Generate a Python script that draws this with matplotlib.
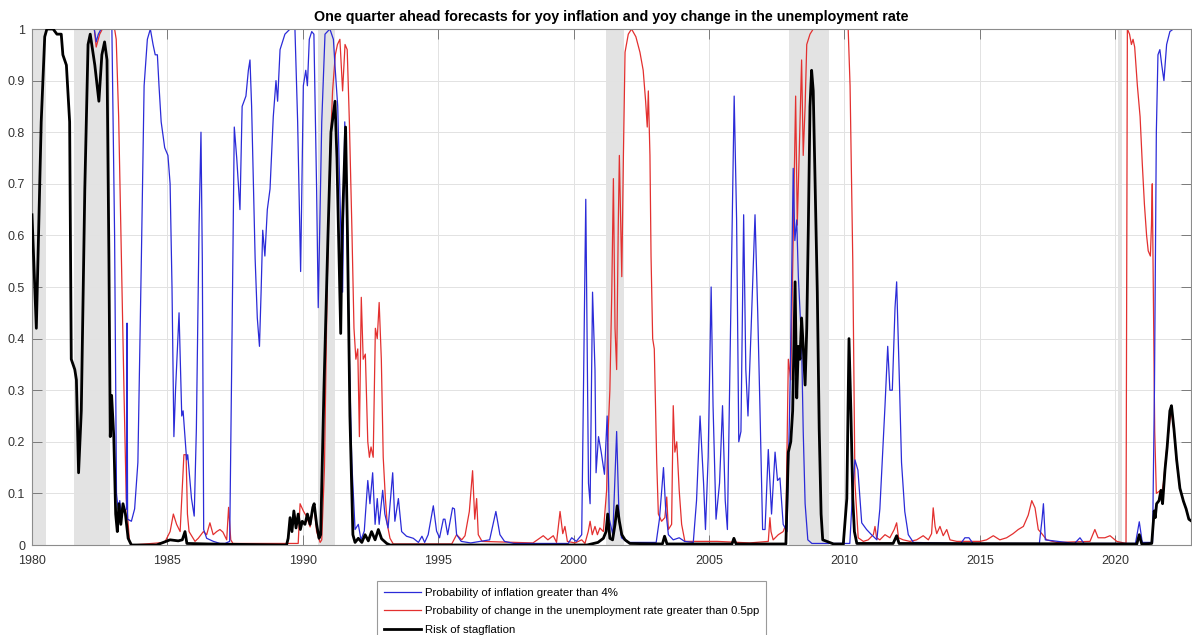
import matplotlib
matplotlib.use("Agg")
import matplotlib.pyplot as plt

plt.rcParams['font.family'] = ['Liberation Sans', 'DejaVu Sans']

# ---------------- data ----------------
title = "One quarter ahead forecasts for yoy inflation and yoy change in the unemployment rate"
labels = ["Probability of inflation greater than 4%",
          "Probability of change in the unemployment rate greater than 0.5pp",
          "Risk of stagflation"]

recession_start = [1980.0, 1981.54, 1990.55, 2001.2, 2007.95, 2020.1]
recession_end = [1980.5, 1982.87, 1991.2, 2001.85, 2009.45, 2020.25]

blue_t = [1980.0, 1982.3, 1982.37, 1982.45, 1982.55, 1982.95, 1983.05, 1983.12, 1983.18, 1983.24,
          1983.3, 1983.36, 1983.42, 1983.49, 1983.51, 1983.53, 1983.67, 1983.79, 1983.91, 1984.04,
          1984.14, 1984.26, 1984.37, 1984.47, 1984.55, 1984.63, 1984.69, 1984.77, 1984.9, 1985.02,
          1985.1, 1985.17, 1985.24, 1985.3, 1985.43, 1985.53, 1985.58, 1985.71, 1985.75, 1985.89,
          1985.99, 1986.07, 1986.17, 1986.24, 1986.29, 1986.34, 1986.45, 1986.7, 1986.94, 1987.13,
          1987.3, 1987.39, 1987.47, 1987.56, 1987.68, 1987.76, 1987.9, 1987.99, 1988.05, 1988.11,
          1988.24, 1988.32, 1988.4, 1988.46, 1988.52, 1988.6, 1988.69, 1988.79, 1988.91, 1989.01,
          1989.07, 1989.16, 1989.34, 1989.53, 1989.71, 1989.81, 1989.92, 1990.02, 1990.11, 1990.17,
          1990.24, 1990.33, 1990.41, 1990.51, 1990.57, 1990.7, 1990.82, 1991.0, 1991.13, 1991.2,
          1991.29, 1991.4, 1991.47, 1991.55, 1991.61, 1991.72, 1991.81, 1991.93, 1992.05, 1992.15,
          1992.27, 1992.4, 1992.48, 1992.58, 1992.67, 1992.75, 1992.82, 1992.95, 1993.03, 1993.15,
          1993.32, 1993.4, 1993.53, 1993.65, 1993.83, 1994.08, 1994.27, 1994.4, 1994.5, 1994.63,
          1994.82, 1994.94, 1995.05, 1995.19, 1995.25, 1995.35, 1995.53, 1995.6, 1995.68, 1995.85,
          1996.2, 1996.54, 1996.9, 1997.13, 1997.28, 1997.45, 1997.8, 1999.8, 1999.93, 2000.1,
          2000.3, 2000.45, 2000.55, 2000.61, 2000.7, 2000.79, 2000.83, 2000.92, 2001.02, 2001.14,
          2001.24, 2001.32, 2001.45, 2001.59, 2001.68, 2001.77, 2002.0, 2003.05, 2003.17, 2003.32,
          2003.4, 2003.5, 2003.68, 2003.9, 2004.1, 2004.42, 2004.54, 2004.67, 2004.8, 2004.87,
          2004.97, 2005.08, 2005.15, 2005.26, 2005.39, 2005.5, 2005.6, 2005.68, 2005.93, 2006.02,
          2006.1, 2006.18, 2006.28, 2006.36, 2006.44, 2006.55, 2006.7, 2006.8, 2006.88, 2006.98,
          2007.07, 2007.19, 2007.31, 2007.44, 2007.53, 2007.62, 2007.74, 2007.88, 2008.0, 2008.11,
          2008.17, 2008.24, 2008.3, 2008.42, 2008.48, 2008.55, 2008.65, 2008.8, 2010.2, 2010.3,
          2010.39, 2010.5, 2010.64, 2010.82, 2011.0, 2011.2, 2011.31, 2011.5, 2011.6, 2011.68,
          2011.77, 2011.87, 2011.93, 2012.02, 2012.11, 2012.23, 2012.36, 2012.55, 2014.3, 2014.45,
          2014.6, 2014.75, 2017.2, 2017.3, 2017.35, 2017.42, 2018.5, 2018.7, 2018.85, 2020.75,
          2020.89, 2021.0, 2021.38, 2021.45, 2021.52, 2021.58, 2021.65, 2021.72, 2021.8, 2021.9,
          2022.02, 2022.15, 2022.8]
blue_v = [1.0, 1.0, 0.975, 0.99, 1.0, 1.0, 0.6, 0.1, 0.07, 0.086,
          0.06, 0.08, 0.066, 0.07, 0.43, 0.05, 0.046, 0.07, 0.16, 0.56,
          0.89, 0.98, 1.0, 0.97, 0.95, 0.95, 0.89, 0.82, 0.77, 0.755,
          0.7, 0.5, 0.21, 0.3, 0.45, 0.25, 0.26, 0.165, 0.175, 0.09,
          0.056, 0.225, 0.62, 0.8, 0.55, 0.03, 0.013, 0.007, 0.003, 0.003,
          0.007, 0.42, 0.81, 0.75, 0.65, 0.85, 0.87, 0.92, 0.94, 0.85,
          0.555, 0.44, 0.385, 0.49, 0.61, 0.56, 0.65, 0.69, 0.83, 0.9,
          0.86, 0.96, 0.99, 1.0, 1.0, 0.82, 0.53, 0.89, 0.92, 0.89,
          0.98, 0.995, 0.99, 0.69, 0.46, 0.82, 0.99, 1.0, 0.98, 0.92,
          0.85, 0.62, 0.49, 0.82, 0.69, 0.36, 0.16, 0.03, 0.04, 0.01,
          0.027, 0.125, 0.08, 0.14, 0.04, 0.09, 0.04, 0.106, 0.06, 0.033,
          0.14, 0.046, 0.09, 0.026, 0.017, 0.013, 0.005, 0.017, 0.005, 0.02,
          0.076, 0.027, 0.014, 0.05, 0.05, 0.02, 0.072, 0.07, 0.02, 0.007,
          0.004, 0.007, 0.01, 0.065, 0.02, 0.007, 0.003, 0.003, 0.014, 0.007,
          0.02, 0.67, 0.12, 0.08, 0.49, 0.34, 0.14, 0.21, 0.18, 0.137,
          0.25, 0.05, 0.02, 0.22, 0.05, 0.014, 0.005, 0.005, 0.05, 0.15,
          0.07, 0.02, 0.01, 0.014, 0.007, 0.005, 0.086, 0.25, 0.12, 0.03,
          0.17, 0.5, 0.27, 0.05, 0.12, 0.27, 0.086, 0.03, 0.87, 0.63,
          0.2, 0.22, 0.64, 0.34, 0.25, 0.41, 0.64, 0.45, 0.27, 0.03,
          0.03, 0.185, 0.06, 0.18, 0.125, 0.13, 0.04, 0.026, 0.32, 0.73,
          0.59, 0.63, 0.52, 0.39, 0.22, 0.08, 0.01, 0.003, 0.003, 0.1,
          0.165, 0.145, 0.043, 0.03, 0.02, 0.01, 0.07, 0.27, 0.385, 0.3,
          0.3, 0.46, 0.51, 0.34, 0.16, 0.065, 0.02, 0.005, 0.003, 0.014,
          0.014, 0.003, 0.003, 0.05, 0.08, 0.01, 0.003, 0.014, 0.003, 0.003,
          0.045, 0.005, 0.005, 0.3, 0.8, 0.95, 0.96, 0.93, 0.9, 0.97,
          0.995, 1.0, 1.0]

red_t = [1980.0, 1982.3, 1982.37, 1982.5, 1982.6, 1983.05, 1983.11, 1983.2, 1983.3, 1983.4,
         1983.48, 1983.6, 1983.7, 1984.9, 1985.1, 1985.22, 1985.34, 1985.47, 1985.61, 1985.69,
         1985.74, 1985.8, 1986.02, 1986.14, 1986.33, 1986.45, 1986.57, 1986.69, 1986.82, 1986.94,
         1987.05, 1987.19, 1987.26, 1987.34, 1987.42, 1989.83, 1989.9, 1990.02, 1990.14, 1990.27,
         1990.41, 1990.51, 1990.64, 1990.7, 1990.8, 1990.9, 1991.0, 1991.1, 1991.2, 1991.28,
         1991.37, 1991.47, 1991.56, 1991.64, 1991.72, 1991.81, 1991.89, 1991.96, 1992.03, 1992.09,
         1992.16, 1992.23, 1992.31, 1992.4, 1992.46, 1992.52, 1992.6, 1992.68, 1992.75, 1992.82,
         1992.9, 1992.97, 1993.05, 1993.12, 1993.22, 1993.34, 1995.5, 1995.68, 1995.87, 1995.99,
         1996.15, 1996.27, 1996.35, 1996.42, 1996.48, 1996.62, 1998.5, 1998.88, 1999.05, 1999.25,
         1999.37, 1999.5, 1999.6, 1999.68, 1999.77, 2000.05, 2000.3, 2000.42, 2000.54, 2000.61,
         2000.69, 2000.79, 2000.88, 2000.97, 2001.1, 2001.22, 2001.28, 2001.34, 2001.41, 2001.47,
         2001.53, 2001.59, 2001.65, 2001.69, 2001.74, 2001.78, 2001.84, 2001.9, 2002.02, 2002.14,
         2002.3, 2002.45, 2002.57, 2002.66, 2002.72, 2002.76, 2002.82, 2002.86, 2002.92, 2002.98,
         2003.07, 2003.13, 2003.25, 2003.37, 2003.44, 2003.5, 2003.62, 2003.68, 2003.74, 2003.81,
         2003.9, 2003.99, 2004.11, 2005.3, 2006.5, 2007.19, 2007.25, 2007.29, 2007.37, 2007.56,
         2007.74, 2007.84, 2007.93, 2008.02, 2008.11, 2008.2, 2008.26, 2008.33, 2008.42, 2008.48,
         2008.55, 2008.61, 2008.67, 2008.73, 2008.85, 2010.14, 2010.21, 2010.31, 2010.39, 2010.51,
         2010.7, 2010.88, 2011.07, 2011.13, 2011.19, 2011.31, 2011.5, 2011.68, 2011.84, 2011.93,
         2012.0, 2012.17, 2012.42, 2012.67, 2012.91, 2013.1, 2013.22, 2013.28, 2013.35, 2013.41,
         2013.53, 2013.65, 2013.78, 2013.9, 2014.15, 2015.01, 2015.25, 2015.5, 2015.74, 2015.99,
         2016.23, 2016.42, 2016.61, 2016.79, 2016.92, 2017.04, 2017.16, 2017.29, 2017.47, 2017.84,
         2019.07, 2019.25, 2019.37, 2019.62, 2019.81, 2020.06, 2020.4, 2020.45, 2020.53, 2020.6,
         2020.66, 2020.72, 2020.82, 2020.92, 2021.0, 2021.08, 2021.16, 2021.22, 2021.3, 2021.34,
         2021.37, 2021.41, 2021.46, 2021.52, 2021.65, 2021.72, 2021.78, 2021.9, 2022.02, 2022.08,
         2022.17, 2022.27, 2022.39, 2022.52, 2022.62, 2022.72, 2022.8]
red_v = [1.0, 1.0, 0.965, 0.99, 1.0, 1.0, 0.98, 0.83, 0.56, 0.29,
         0.09, 0.007, 0.0, 0.005, 0.026, 0.06, 0.04, 0.026, 0.175, 0.175,
         0.06, 0.026, 0.007, 0.013, 0.026, 0.02, 0.043, 0.02, 0.026, 0.03,
         0.025, 0.01, 0.073, 0.01, 0.003, 0.003, 0.08, 0.066, 0.055, 0.035,
         0.08, 0.026, 0.005, 0.01, 0.15, 0.5, 0.75, 0.88, 0.95, 0.97,
         0.98, 0.88, 0.97, 0.96, 0.82, 0.62, 0.42, 0.36, 0.38, 0.21,
         0.48, 0.36, 0.37, 0.2, 0.17, 0.19, 0.17, 0.42, 0.4, 0.47,
         0.36, 0.17, 0.09, 0.04, 0.013, 0.002, 0.002, 0.02, 0.01, 0.018,
         0.065, 0.144, 0.05, 0.09, 0.02, 0.007, 0.004, 0.018, 0.01, 0.018,
         0.005, 0.065, 0.022, 0.036, 0.007, 0.004, 0.01, 0.003, 0.026, 0.046,
         0.02, 0.036, 0.02, 0.033, 0.026, 0.106, 0.225, 0.3, 0.49, 0.71,
         0.42, 0.34, 0.62, 0.755, 0.62, 0.52, 0.755, 0.955, 0.99, 1.0,
         0.985, 0.955, 0.92, 0.86, 0.81, 0.88, 0.755, 0.56, 0.4, 0.38,
         0.16, 0.06, 0.046, 0.053, 0.093, 0.03, 0.04, 0.27, 0.18, 0.2,
         0.106, 0.04, 0.007, 0.007, 0.004, 0.007, 0.053, 0.026, 0.01, 0.02,
         0.026, 0.04, 0.36, 0.32, 0.59, 0.87, 0.62, 0.755, 0.94, 0.755,
         0.85, 0.97, 0.98, 0.99, 1.0, 1.0, 0.89, 0.55, 0.12, 0.014,
         0.007, 0.01, 0.02, 0.036, 0.014, 0.01, 0.02, 0.014, 0.03, 0.043,
         0.014, 0.01, 0.007, 0.01, 0.018, 0.01, 0.022, 0.072, 0.036, 0.022,
         0.036, 0.018, 0.03, 0.01, 0.007, 0.007, 0.01, 0.018, 0.01, 0.014,
         0.022, 0.03, 0.036, 0.058, 0.086, 0.072, 0.03, 0.022, 0.01, 0.005,
         0.007, 0.03, 0.014, 0.014, 0.018, 0.007, 0.003, 1.0, 0.99, 0.97,
         0.98, 0.965, 0.89, 0.83, 0.74, 0.66, 0.6, 0.57, 0.56, 0.62,
         0.7, 0.49, 0.22, 0.1, 0.105, 0.1, 0.12, 0.185, 0.24, 0.26,
         0.22, 0.16, 0.11, 0.085, 0.07, 0.05, 0.047]

black_t = [1980.0, 1980.16, 1980.34, 1980.47, 1980.55, 1980.78, 1980.92, 1981.08, 1981.14, 1981.27,
           1981.39, 1981.45, 1981.58, 1981.64, 1981.72, 1981.82, 1981.95, 1982.07, 1982.15, 1982.32,
           1982.47, 1982.58, 1982.68, 1982.77, 1982.84, 1982.89, 1982.94, 1983.02, 1983.09, 1983.15,
           1983.21, 1983.28, 1983.36, 1983.45, 1983.55, 1983.67, 1984.6, 1984.85, 1985.1, 1985.4,
           1985.55, 1985.65, 1985.72, 1986.5, 1989.4, 1989.46, 1989.53, 1989.6, 1989.67, 1989.75,
           1989.83, 1989.91, 1989.98, 1990.08, 1990.17, 1990.27, 1990.37, 1990.42, 1990.51, 1990.6,
           1990.66, 1990.78, 1990.93, 1991.04, 1991.19, 1991.26, 1991.34, 1991.4, 1991.45, 1991.58,
           1991.65, 1991.74, 1991.85, 1991.93, 1992.05, 1992.18, 1992.3, 1992.42, 1992.54, 1992.67,
           1992.79, 1992.91, 1993.1, 1993.22, 2000.5, 2000.9, 2001.1, 2001.2, 2001.26, 2001.34,
           2001.44, 2001.53, 2001.61, 2001.69, 2001.78, 2001.9, 2002.08, 2003.28, 2003.36, 2003.45,
           2005.85, 2005.92, 2006.0, 2007.84, 2007.93, 2008.02, 2008.09, 2008.18, 2008.24, 2008.3,
           2008.36, 2008.42, 2008.48, 2008.55, 2008.61, 2008.67, 2008.73, 2008.79, 2008.85, 2008.91,
           2009.0, 2009.07, 2009.14, 2009.2, 2009.35, 2009.6, 2009.96, 2010.09, 2010.17, 2010.24,
           2010.31, 2010.37, 2010.46, 2011.8, 2011.93, 2012.02, 2020.8, 2020.89, 2020.98, 2021.35,
           2021.44, 2021.48, 2021.53, 2021.62, 2021.69, 2021.75, 2021.84, 2021.92, 2022.02, 2022.08,
           2022.17, 2022.27, 2022.39, 2022.52, 2022.62, 2022.72, 2022.8]
black_v = [0.64, 0.42, 0.82, 0.985, 1.0, 1.0, 0.99, 0.99, 0.95, 0.93,
           0.82, 0.36, 0.34, 0.32, 0.14, 0.26, 0.69, 0.97, 0.99, 0.93,
           0.86, 0.95, 0.975, 0.94, 0.56, 0.21, 0.29, 0.21, 0.06, 0.026,
           0.08, 0.04, 0.08, 0.06, 0.013, 0.0, 0.0, 0.005, 0.01, 0.008,
           0.01, 0.026, 0.003, 0.002, 0.0, 0.013, 0.053, 0.026, 0.066, 0.033,
           0.06, 0.03, 0.046, 0.04, 0.06, 0.04, 0.073, 0.08, 0.04, 0.013,
           0.02, 0.3, 0.6, 0.8, 0.86, 0.75, 0.55, 0.41, 0.6, 0.81,
           0.6, 0.25, 0.02, 0.005, 0.013, 0.005, 0.02, 0.008, 0.026, 0.01,
           0.03, 0.012, 0.003, 0.0, 0.0, 0.005, 0.013, 0.026, 0.06, 0.013,
           0.01, 0.04, 0.076, 0.046, 0.02, 0.01, 0.003, 0.002, 0.017, 0.002,
           0.002, 0.013, 0.002, 0.002, 0.18, 0.2, 0.26, 0.51, 0.285, 0.385,
           0.36, 0.44, 0.385, 0.31, 0.42, 0.62, 0.85, 0.92, 0.88, 0.72,
           0.49, 0.225, 0.06, 0.01, 0.007, 0.002, 0.002, 0.09, 0.4, 0.26,
           0.09, 0.026, 0.003, 0.003, 0.018, 0.003, 0.002, 0.02, 0.002, 0.003,
           0.066, 0.053, 0.08, 0.086, 0.106, 0.08, 0.146, 0.19, 0.26, 0.27,
           0.225, 0.165, 0.11, 0.085, 0.07, 0.05, 0.047]

x_ticks = [1980, 1985, 1990, 1995, 2000, 2005, 2010, 2015, 2020]
y_ticks = [0, 0.1, 0.2, 0.3, 0.4, 0.5, 0.6, 0.7, 0.8, 0.9, 1]
y_ticklabels = ["0", "0.1", "0.2", "0.3", "0.4", "0.5", "0.6", "0.7", "0.8", "0.9", "1"]

# ---------------- figure ----------------
W, H = 1192, 635
fig = plt.figure(figsize=(W / 100, H / 100), dpi=100)
ax = fig.add_axes([32 / W, 1 - 545 / H, (1191 - 32) / W, (545 - 29) / H])

for s, e in zip(recession_start, recession_end):
    ax.axvspan(s, e, color='#e3e3e3', lw=0, zorder=0)

ax.grid(True, color='#e2e2e2', lw=0.7, zorder=0.5)
ax.set_axisbelow(True)

l_red, = ax.plot(red_t, red_v, color='#e3302f', lw=0.9, zorder=2)
l_blue, = ax.plot(blue_t, blue_v, color='#2b2bd8', lw=0.9, zorder=2.5)
l_black, = ax.plot(black_t, black_v, color='black', lw=2.0, zorder=3)

ax.set_xlim(1980, 2022.8)
ax.set_ylim(0, 1)
ax.set_xticks(x_ticks)
ax.set_yticks(y_ticks)
ax.set_yticklabels(y_ticklabels)
ax.tick_params(direction='in', length=7, width=0.6, colors='#6a6a6a',
               labelsize=9, labelcolor='#333333', top=True, right=True)
ax.tick_params(axis='x', pad=7)
ax.tick_params(axis='y', pad=5)
for sp in ax.spines.values():
    sp.set_color('#8c8c8c')
    sp.set_linewidth(0.8)

ax.set_title(title, fontsize=10.3, fontweight='bold', pad=6)

leg = fig.legend([l_blue, l_red, l_black], labels, loc='upper left',
                 bbox_to_anchor=(377 / W, 1 - 581 / H), fontsize=8.2,
                 frameon=True, fancybox=False, framealpha=1, edgecolor='#9a9a9a',
                 handlelength=3.3, handletextpad=0.3, labelspacing=0.75,
                 borderpad=0.6, borderaxespad=0)
leg.get_frame().set_linewidth(0.8)

fig.savefig('out.png', dpi=100)
